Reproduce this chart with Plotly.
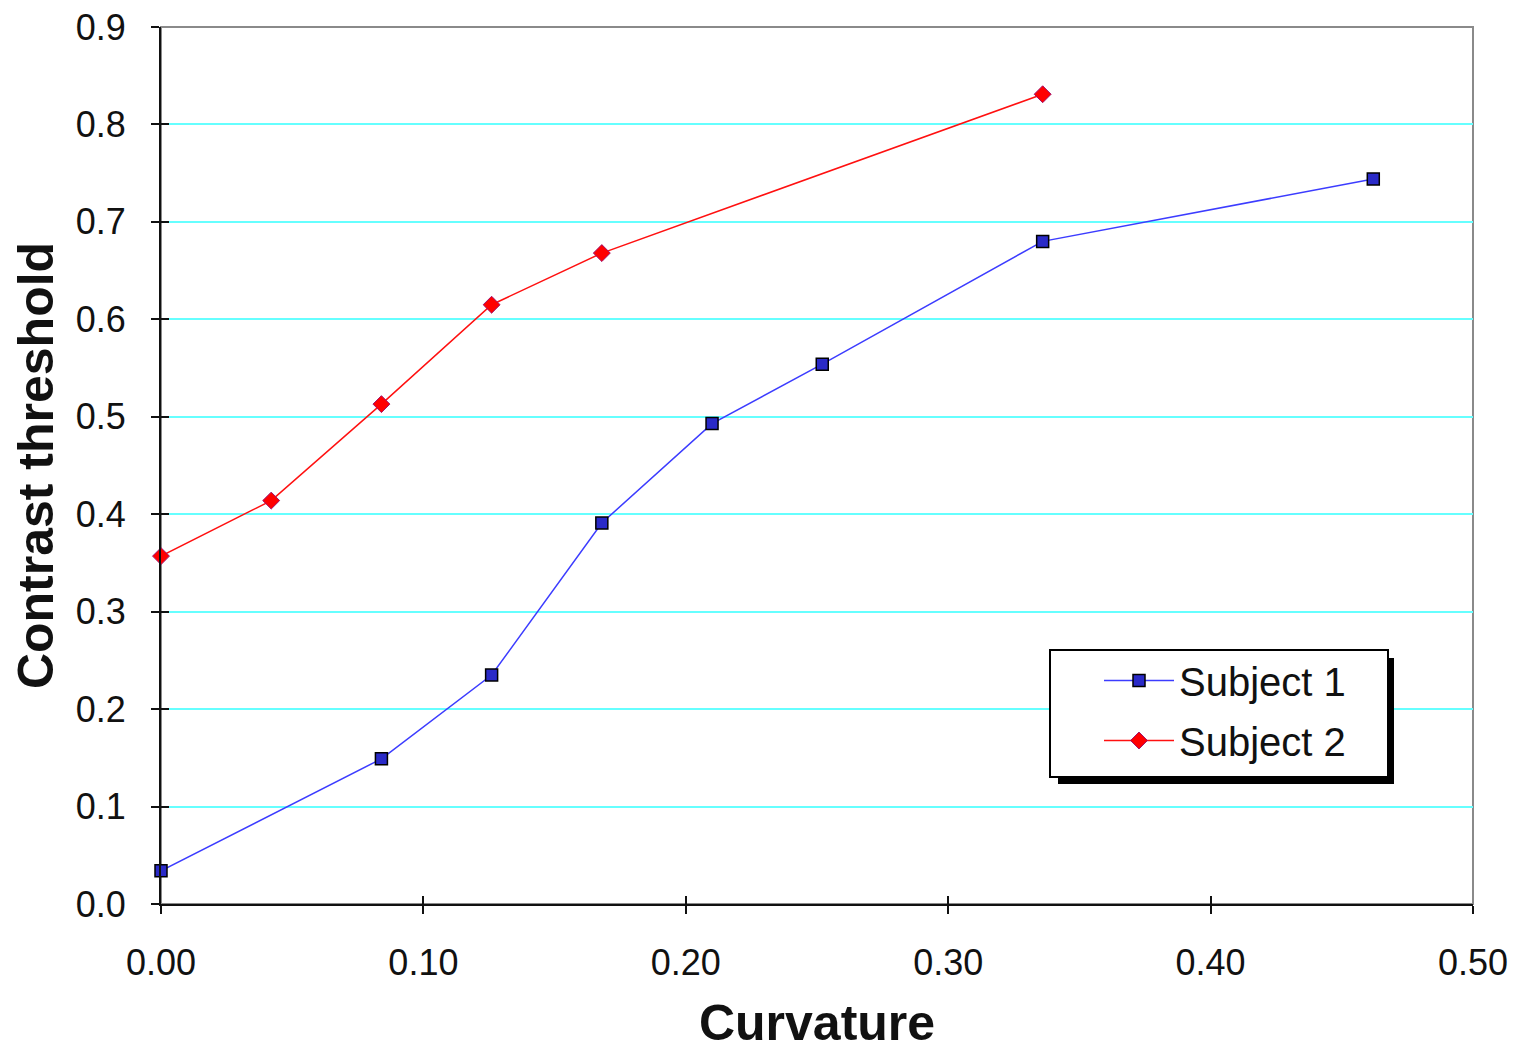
import plotly.graph_objects as go

# Data
s1_x = [0.0, 0.084, 0.126, 0.168, 0.21, 0.252, 0.336, 0.462]
s1_y = [0.034, 0.149, 0.235, 0.391, 0.493, 0.554, 0.680, 0.744]
s2_x = [0.0, 0.042, 0.084, 0.126, 0.168, 0.336]
s2_y = [0.357, 0.414, 0.513, 0.615, 0.668, 0.831]
series_names = ["Subject 1", "Subject 2"]

x_ticks = [0.0, 0.1, 0.2, 0.3, 0.4, 0.5]
y_ticks = [0.0, 0.1, 0.2, 0.3, 0.4, 0.5, 0.6, 0.7, 0.8, 0.9]

FONT = "Liberation Sans, Arial, sans-serif"

fig = go.Figure()
fig.add_trace(go.Scatter(
    x=s1_x, y=s1_y, name=series_names[0], mode="lines+markers", legendgroup="a",
    line=dict(color="#3c3cff", width=1.5),
    marker=dict(symbol="square", size=12, color="#2a2ac8", line=dict(color="#000000", width=1.5)),
    cliponaxis=False,
))
fig.add_trace(go.Scatter(
    x=s2_x, y=s2_y, name=series_names[1], mode="lines+markers", legendgroup="b",
    line=dict(color="#ff1010", width=1.5),
    marker=dict(symbol="diamond", size=13, color="#ff0000", line=dict(color="#a0106a", width=1)),
    cliponaxis=False,
))

# page body has an 8px margin; compensate so the plot area lands at screen (161..1473, 27..904)
OFF = 8
W, H = 1510, 1043
L, R, T, B = 153, 45, 19, 147
PW, PH = W - L - R, H - T - B


def px(sx):
    return (sx - OFF - L) / PW


def py(sy):
    return (OFF + H - B - sy) / PH


fig.update_layout(
    width=W, height=H,
    margin=dict(l=L, r=R, t=T, b=B, autoexpand=False),
    paper_bgcolor="white", plot_bgcolor="white",
    font=dict(family=FONT, size=36, color="#111111"),
    showlegend=True,
    legend=dict(
        x=px(1099), y=py(648),
        xanchor="left", yanchor="top",
        bgcolor="rgba(0,0,0,0)", borderwidth=0,
        font=dict(family=FONT, size=40, color="#111111"),
        itemwidth=70, tracegroupgap=5,
    ),
    xaxis=dict(
        range=[0, 0.5], tickvals=x_ticks, tickformat=".2f", automargin=False,
        showgrid=False, zeroline=False, ticklabeloverflow="allow",
        showline=True, linecolor="#111111", linewidth=2,
        ticks="outside", ticklen=8, tickwidth=2, tickcolor="#111111",
        ticklabelstandoff=18,
        title=dict(text="<b>Curvature</b>", font=dict(family=FONT, size=50, color="#111111"), standoff=27),
    ),
    yaxis=dict(
        range=[0, 0.9], tickvals=y_ticks, tickformat=".1f", automargin=False,
        showgrid=True, gridcolor="#66ffff", gridwidth=2, zeroline=False, ticklabeloverflow="allow",
        showline=True, linecolor="#111111", linewidth=2,
        ticks="outside", ticklen=8, tickwidth=2, tickcolor="#111111",
        ticklabelstandoff=18,
        title=dict(text="<b>Contrast threshold</b>", font=dict(family=FONT, size=50, color="#111111"), standoff=8),
    ),
    xaxis2=dict(
        overlaying="x", anchor="y", side="bottom", matches="x", automargin=False,
        range=[0, 0.5], tickvals=x_ticks, showticklabels=False,
        showgrid=False, zeroline=False, showline=False,
        ticks="inside", ticklen=8, tickwidth=2, tickcolor="#111111",
    ),
    yaxis2=dict(
        overlaying="y", anchor="x", side="left", matches="y", automargin=False,
        range=[0, 0.9], tickvals=y_ticks, showticklabels=False,
        showgrid=False, zeroline=False, showline=False,
        ticks="inside", ticklen=8, tickwidth=2, tickcolor="#111111",
    ),
    shapes=[
        # gray plot-area frame (top/right)
        dict(type="rect", xref="x domain", yref="y domain", x0=0, x1=1, y0=0, y1=1,
             line=dict(color="#8a8a8a", width=2), layer="below"),
        # legend drop shadow
        dict(type="rect", xref="paper", yref="paper",
             x0=px(1058), x1=px(1394), y0=py(784), y1=py(658),
             fillcolor="black", line=dict(width=0), layer="above"),
        # legend box
        dict(type="rect", xref="paper", yref="paper",
             x0=px(1050), x1=px(1388), y0=py(777), y1=py(650),
             fillcolor="white", line=dict(color="black", width=2), layer="above"),
    ],
)

# invisible helper traces so overlay axes get drawn
fig.add_trace(go.Scatter(x=[None], y=[None], xaxis="x2", yaxis="y", showlegend=False, hoverinfo="skip"))
fig.add_trace(go.Scatter(x=[None], y=[None], xaxis="x", yaxis="y2", showlegend=False, hoverinfo="skip"))

fig.write_html("out.html")
